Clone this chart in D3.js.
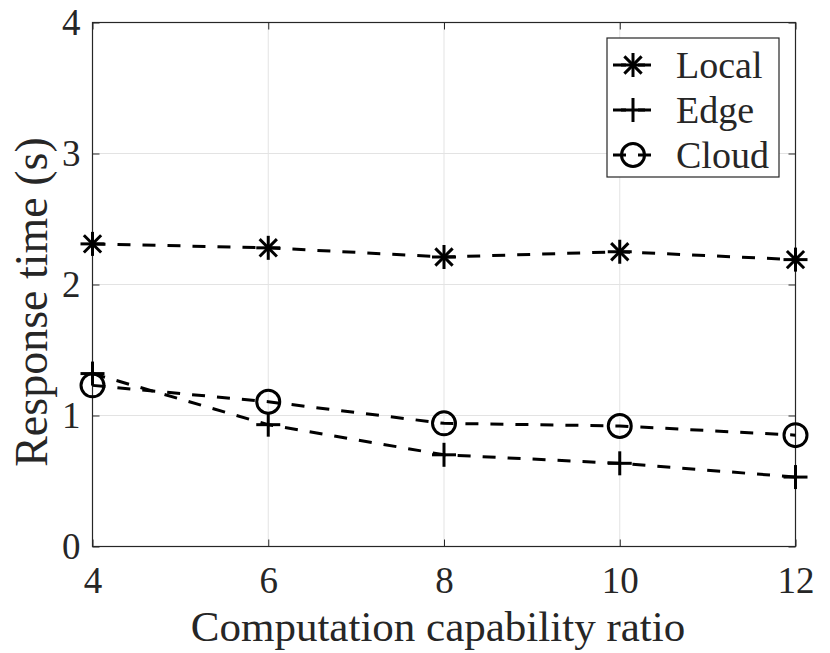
<!DOCTYPE html>
<html>
<head>
<meta charset="utf-8">
<script src="https://cdn.jsdelivr.net/npm/d3@7"></script>
<style>
  html, body { margin: 0; padding: 0; background: #fff; }
  svg { display: block; }
  text { font-family: "Liberation Serif", "Times New Roman", serif; fill: #262626; }
</style>
</head>
<body>
<svg id="chart" width="830" height="653"></svg>
<script>
// Response time versus computation capability ratio
const ratios = [4, 6, 8, 10, 12];
const localTimes = [2.31, 2.28, 2.21, 2.25, 2.19];
const edgeTimes = [1.32, 0.93, 0.70, 0.635, 0.53];
const cloudTimes = [1.23, 1.105, 0.94, 0.92, 0.85];
const xTicks = [4, 6, 8, 10, 12];
const yTicks = [0, 1, 2, 3, 4];
const seriesNames = ["Local", "Edge", "Cloud"];
const seriesMarkers = ["asterisk", "plus", "circle"];

const series = seriesNames.map((name, i) => ({
  name,
  marker: seriesMarkers[i],
  values: [localTimes, edgeTimes, cloudTimes][i]
}));

const svg = d3.select("#chart");
const plot = { left: 92.5, right: 795.5, top: 22.5, bottom: 546.5 };

const x = d3.scaleLinear().domain([4, 12]).range([plot.left, plot.right]);
const y = d3.scaleLinear().domain([0, 4]).range([plot.bottom, plot.top]);

const axisColor = "#262626";
const serif = '"Liberation Serif", "Times New Roman", serif';
const tickFont = 37;

// grid
const grid = svg.append("g");
grid.selectAll("line.gx").data(xTicks).join("line")
  .attr("x1", d => x(d)).attr("x2", d => x(d))
  .attr("y1", plot.top).attr("y2", plot.bottom)
  .attr("stroke", "#e3e3e3").attr("stroke-width", 1);
grid.selectAll("line.gy").data(yTicks).join("line")
  .attr("x1", plot.left).attr("x2", plot.right)
  .attr("y1", d => y(d)).attr("y2", d => y(d))
  .attr("stroke", "#e3e3e3").attr("stroke-width", 1);

// axes with inward ticks on all four sides
function styleAxis(g) {
  g.attr("font-family", serif);
  g.select(".domain").remove();
  g.selectAll(".tick line").attr("stroke", axisColor).attr("stroke-width", 1);
  g.selectAll(".tick text")
    .style("font-family", serif)
    .style("font-size", tickFont + "px")
    .attr("fill", axisColor);
}
const tickLen = 7;
svg.append("g").attr("transform", `translate(0,${plot.bottom})`)
  .call(d3.axisBottom(x).tickValues(xTicks).tickFormat(d3.format("d")).tickSizeInner(-tickLen).tickSizeOuter(0).tickPadding(20))
  .call(styleAxis)
  .call(g => g.selectAll(".tick text").attr("dy", "0.71em"));
svg.append("g").attr("transform", `translate(0,${plot.top})`)
  .call(d3.axisTop(x).tickValues(xTicks).tickFormat("").tickSizeInner(-tickLen).tickSizeOuter(0))
  .call(styleAxis);
svg.append("g").attr("transform", `translate(${plot.left},0)`)
  .call(d3.axisLeft(y).tickValues(yTicks).tickFormat(d3.format("d")).tickSizeInner(-tickLen).tickSizeOuter(0).tickPadding(12))
  .call(styleAxis);
svg.append("g").attr("transform", `translate(${plot.right},0)`)
  .call(d3.axisRight(y).tickValues(yTicks).tickFormat("").tickSizeInner(-tickLen).tickSizeOuter(0))
  .call(styleAxis);

// frame
svg.append("rect")
  .attr("x", plot.left).attr("y", plot.top)
  .attr("width", plot.right - plot.left).attr("height", plot.bottom - plot.top)
  .attr("fill", "none").attr("stroke", axisColor).attr("stroke-width", 1.2);

// marker drawing
function drawMarker(g, type, cx, cy) {
  const s = 12;
  const st = { stroke: "#000", "stroke-width": 3, fill: "none" };
  const apply = sel => { Object.entries(st).forEach(([k, v]) => sel.attr(k, v)); return sel; };
  if (type === "circle") {
    apply(g.append("circle").attr("cx", cx).attr("cy", cy).attr("r", s - 0.5));
  } else {
    const arms = type === "plus" ? [[s, 0], [0, s]] : [[s, 0], [0, s], [s * 0.72, s * 0.72], [s * 0.72, -s * 0.72]];
    arms.forEach(([dx, dy]) => {
      apply(g.append("line")
        .attr("x1", cx - dx).attr("y1", cy - dy)
        .attr("x2", cx + dx).attr("y2", cy + dy));
    });
  }
}

// series
const line = d3.line().x((d, i) => x(ratios[i])).y(d => y(d));
const dataLayer = svg.append("g");
series.forEach(s => {
  dataLayer.append("path")
    .attr("d", line(s.values))
    .attr("fill", "none").attr("stroke", "#000")
    .attr("stroke-width", 3).attr("stroke-dasharray", "13,12");
  const mg = dataLayer.append("g");
  s.values.forEach((v, i) => drawMarker(mg, s.marker, x(ratios[i]), y(v)));
});

// legend
const legend = svg.append("g");
legend.append("rect")
  .attr("x", 607).attr("y", 38).attr("width", 172).attr("height", 139)
  .attr("fill", "#fff").attr("stroke", axisColor).attr("stroke-width", 1.2);
series.forEach((s, i) => {
  const cy = 65 + i * 45;
  legend.append("line")
    .attr("x1", 613).attr("x2", 653).attr("y1", cy).attr("y2", cy)
    .attr("stroke", "#000").attr("stroke-width", 3).attr("stroke-dasharray", "13,12");
  drawMarker(legend, s.marker, 633, cy);
  legend.append("text")
    .attr("x", 676).attr("y", cy).attr("dy", "0.35em")
    .style("font-size", "38px").attr("fill", "#000")
    .text(s.name);
});

// axis labels
svg.append("text")
  .attr("x", 438).attr("y", 641)
  .attr("text-anchor", "middle").style("font-size", "43px")
  .text("Computation capability ratio");
svg.append("text")
  .attr("transform", "translate(47,302) rotate(-90)")
  .attr("text-anchor", "middle").style("font-size", "46px")
  .text("Response time (s)");
</script>
</body>
</html>
